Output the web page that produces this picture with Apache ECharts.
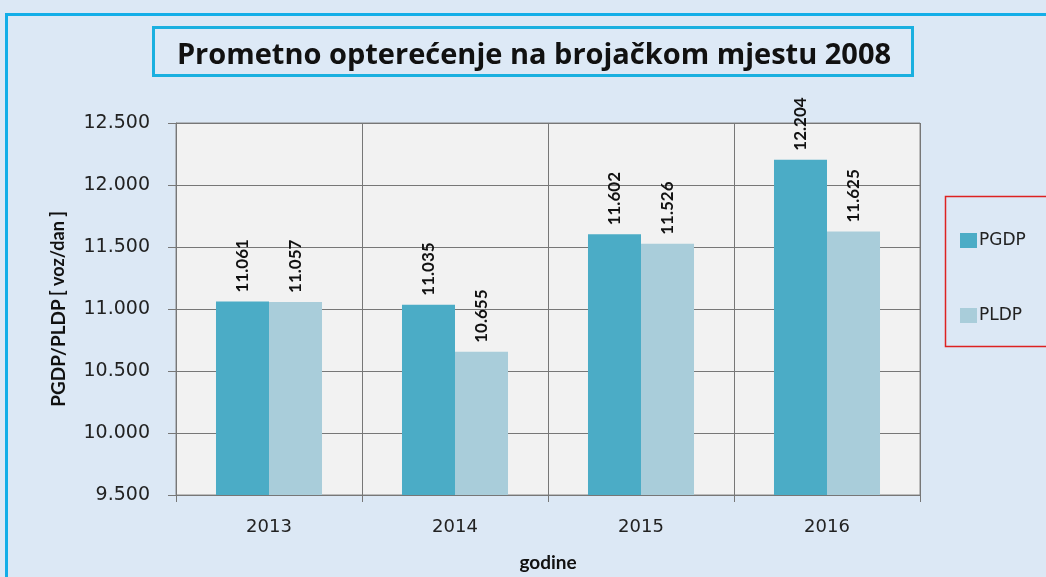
<!DOCTYPE html>
<html><head><meta charset="utf-8">
<script src="https://cdn.jsdelivr.net/npm/echarts@6/dist/echarts.min.js"></script>
<style>html,body{margin:0;padding:0;background:#dce8f5;}#c{width:1046px;height:577px;}</style>
</head><body><div id="c"></div>
<script>
const categories = ['2013', '2014', '2015', '2016'];
const pgdp = [11061, 11035, 11602, 12204];
const pldp = [11057, 10655, 11526, 11625];
const yTicks = [9500, 10000, 10500, 11000, 11500, 12000, 12500];
const titleText = 'Prometno opterećenje na brojačkom mjestu 2008';

function fmt(v){ const s=String(v); return s.slice(0,s.length-3)+'.'+s.slice(-3); }

const chart = echarts.init(document.getElementById('c'));
const labelCfg = {
  show: true, position: 'top', rotate: 90, align: 'left', verticalAlign: 'middle', distance: 9,
  fontFamily: 'Lato', fontWeight: 'bold', fontSize: 17, color: '#111',
  formatter: p => fmt(p.value)
};
chart.setOption({
  backgroundColor: '#dce8f5',
  animation: false,
  title: {
    text: titleText, left: 529, top: 51, textAlign: 'center', textVerticalAlign: 'middle',
    textStyle: { fontFamily: 'Open Sans', fontWeight: 'bold', fontSize: 29, color: '#111' }
  },
  graphic: [
    { type: 'rect', left: 4, top: 12, shape: { width: 1050, height: 580 }, style: { fill: 'none', stroke: '#13aee8', lineWidth: 3 }, z: 0 },
    { type: 'rect', left: 152, top: 26, shape: { width: 759, height: 48 }, style: { fill: '#dde9f6', stroke: '#1ab0e0', lineWidth: 3 }, z: 0 },
    { type: 'rect', left: 943, top: 194, shape: { width: 110, height: 150 }, style: { fill: 'none', stroke: '#d22', lineWidth: 1.5 }, z: 0 }
  ],
  legend: {
    orient: 'vertical', left: 955, top: 227, itemGap: 58, itemWidth: 17, itemHeight: 15, icon: 'rect',
    textStyle: { fontFamily: 'DejaVu Sans', fontSize: 17, color: '#222', padding: [0,0,0,-3] },
    data: ['PGDP', 'PLDP']
  },
  grid: { left: 176, right: 126, top: 123, bottom: 82, outerBoundsMode: 'none', containLabel: false, show: true, backgroundColor: '#f2f2f2', borderColor: '#888', borderWidth: 1 },
  xAxis: {
    type: 'category', data: categories,
    name: 'godine', nameLocation: 'middle', nameGap: 58,
    nameTextStyle: { fontFamily: 'Lato', fontWeight: 'bold', fontSize: 19, color: '#111' },
    axisLine: { lineStyle: { color: '#777' } },
    axisTick: { show: true, length: 7, lineStyle: { color: '#777' } },
    axisLabel: { fontFamily: 'DejaVu Sans', fontSize: 18, color: '#222', margin: 23 },
    splitLine: { show: true, lineStyle: { color: '#777' } }
  },
  yAxis: {
    type: 'value', min: 9500, max: 12500, interval: 500,
    name: '{b|PGDP/PLDP} {s|[ voz/dan ]}', nameLocation: 'middle', nameGap: 108, nameRotate: 90,
    nameTextStyle: { color: '#111', rich: {
      b: { fontFamily: 'Lato', fontWeight: 'bold', fontSize: 19, color: '#111' },
      s: { fontFamily: 'Lato', fontWeight: 'bold', fontSize: 18, color: '#111' }
    } },
    axisLine: { show: true, lineStyle: { color: '#777' } },
    axisTick: { show: true, length: 8, lineStyle: { color: '#777' } },
    axisLabel: { fontFamily: 'DejaVu Sans', fontSize: 19, color: '#222', margin: 26, formatter: v => yTicks.includes(v) ? fmt(v) : '' },
    splitLine: { lineStyle: { color: '#777' } }
  },
  series: [
    { name: 'PGDP', type: 'bar', data: pgdp, barGap: '0%', barCategoryGap: '43%', itemStyle: { color: '#4bacc6' }, label: labelCfg },
    { name: 'PLDP', type: 'bar', data: pldp, itemStyle: { color: '#a9cdda' }, label: labelCfg }
  ]
});
</script></body></html>
